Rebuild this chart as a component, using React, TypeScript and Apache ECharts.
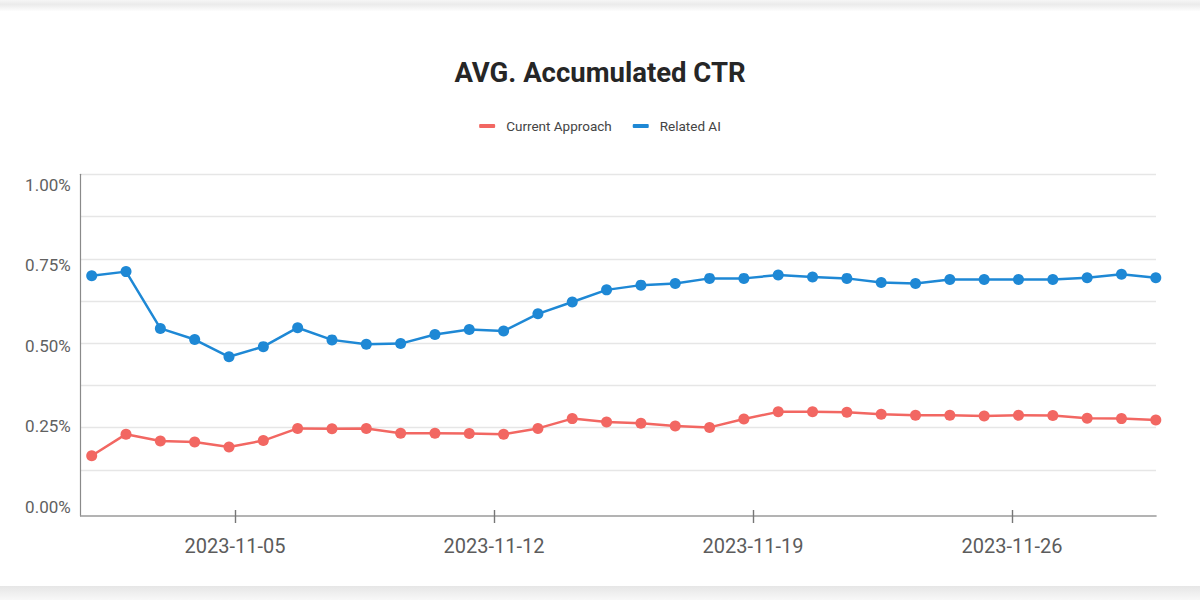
import React, { useEffect, useRef } from 'react';
import * as echarts from 'echarts';

const dates = [
  '2023-11-01', '2023-11-02', '2023-11-03', '2023-11-04', '2023-11-05', '2023-11-06', '2023-11-07', '2023-11-08',
  '2023-11-09', '2023-11-10', '2023-11-11', '2023-11-12', '2023-11-13', '2023-11-14', '2023-11-15', '2023-11-16',
  '2023-11-17', '2023-11-18', '2023-11-19', '2023-11-20', '2023-11-21', '2023-11-22', '2023-11-23', '2023-11-24',
  '2023-11-25', '2023-11-26', '2023-11-27', '2023-11-28', '2023-11-29', '2023-11-30', '2023-12-01', '2023-12-02',
];

const currentApproach = [
  0.167, 0.231, 0.211, 0.208, 0.193, 0.212, 0.248, 0.247, 0.248, 0.234, 0.234, 0.233, 0.231, 0.248, 0.277, 0.267,
  0.263, 0.255, 0.251, 0.276, 0.297, 0.297, 0.296, 0.29, 0.287, 0.287, 0.285, 0.287, 0.286, 0.278, 0.277, 0.273,
];

const relatedAI = [
  0.7, 0.712, 0.544, 0.511, 0.46, 0.49, 0.546, 0.51, 0.497, 0.499, 0.526, 0.541, 0.536, 0.587, 0.622, 0.658,
  0.672, 0.677, 0.692, 0.692, 0.702, 0.696, 0.692, 0.68, 0.677, 0.689, 0.689, 0.689, 0.689, 0.694, 0.704, 0.694,
];

const xTickLabels = ['2023-11-05', '2023-11-12', '2023-11-19', '2023-11-26'];
const yTickValues = [0, 0.25, 0.5, 0.75, 1];
const gridLineValues = [0.125, 0.25, 0.375, 0.5, 0.625, 0.75, 0.875, 1];

const seriesNames = ['Current Approach', 'Related AI'];
const RED = '#F26762';
const BLUE = '#1E88D5';
const FONT = 'Roboto, "Noto Sans", sans-serif';

const DAY = 86400000;

export default function App() {
  const ref = useRef<HTMLDivElement>(null);

  useEffect(() => {
    if (!ref.current) return;
    const chart = echarts.init(ref.current, undefined, { renderer: 'svg' });

    const tickTs = xTickLabels.map((s) => Date.parse(s));
    const xMin = tickTs[0] - 4.17 * DAY;
    const xMax = tickTs[0] + 24.892 * DAY;
    const fmtDate = (v: number) => new Date(v).toISOString().slice(0, 10);

    chart.setOption({
      animation: false,
      backgroundColor: '#ffffff',
      textStyle: { fontFamily: FONT },
      title: {
        text: 'AVG. Accumulated CTR',
        left: 'center',
        top: 53,
        textStyle: { fontFamily: FONT, fontSize: 27.5, fontWeight: 'bold', color: '#262626' },
      },
      legend: {
        data: seriesNames,
        top: 114,
        left: 'center',
        icon: 'roundRect',
        itemWidth: 16,
        itemHeight: 4,
        itemGap: 21,
        textStyle: { fontFamily: FONT, fontSize: 13.5, color: '#444444', padding: [0, 0, 0, 6] },
      },
      graphic: [
        {
          type: 'rect',
          silent: true,
          z: -10,
          shape: { x: 0, y: 0, width: 1200, height: 11 },
          style: {
            fill: new echarts.graphic.LinearGradient(0, 0, 0, 1, [
              { offset: 0, color: '#f6f6f6' },
              { offset: 0.4, color: '#ebebeb' },
              { offset: 1, color: '#fdfdfd' },
            ]),
          },
        },
        {
          type: 'rect',
          silent: true,
          z: -10,
          shape: { x: 0, y: 586, width: 1200, height: 14 },
          style: {
            fill: new echarts.graphic.LinearGradient(0, 0, 0, 1, [
              { offset: 0, color: '#e6e6e6' },
              { offset: 1, color: '#f8f8f8' },
            ]),
          },
        },
      ],
      grid: [
        { left: 91.7, right: 44.2, top: 174.3, bottom: 84 },
        { left: 80.7, right: 44, top: 174.3, bottom: 84 },
      ],
      xAxis: [
        { gridIndex: 0, type: 'category', data: dates, boundaryGap: false, show: false },
        {
          gridIndex: 1,
          type: 'value',
          position: 'bottom',
          min: xMin,
          max: xMax,
          axisLine: { show: true, onZero: false, lineStyle: { color: '#9a9a9a', width: 1.6 } },
          axisTick: { show: true, customValues: tickTs, length: 7, lineStyle: { color: '#777777', width: 1.4 } },
          axisLabel: {
            customValues: tickTs,
            formatter: (v: number) => fmtDate(v),
            fontFamily: FONT,
            fontSize: 20,
            color: '#5c5c5c',
            margin: 20,
          },
          splitLine: { show: false },
        },
        {
          gridIndex: 1,
          type: 'value',
          position: 'bottom',
          min: xMin,
          max: xMax,
          axisLine: { show: false, onZero: false },
          axisTick: { show: true, inside: true, customValues: tickTs, length: 6, lineStyle: { color: '#777777', width: 1.4 } },
          axisLabel: { show: false },
          splitLine: { show: false },
        },
      ],
      yAxis: [
        { gridIndex: 0, type: 'value', min: -0.0112, max: 1, show: false },
        {
          gridIndex: 1,
          type: 'value',
          position: 'left',
          min: -0.0112,
          max: 1,
          axisLine: { show: true, onZero: false, lineStyle: { color: '#8a8a8a', width: 1.2 } },
          axisTick: { show: false, customValues: gridLineValues },
          axisLabel: { show: false },
          splitLine: { show: true, lineStyle: { color: '#e6e6e6', width: 1.3 } },
        },
        {
          gridIndex: 1,
          type: 'value',
          position: 'left',
          min: -0.028,
          max: 1.0332,
          axisLine: { show: false, onZero: false },
          axisTick: { show: false },
          splitLine: { show: false },
          axisLabel: {
            customValues: yTickValues,
            formatter: (v: number) => v.toFixed(2) + '%',
            fontFamily: FONT,
            fontSize: 17,
            color: '#616161',
            margin: 10,
          },
        },
      ],
      series: [
        {
          name: seriesNames[0],
          type: 'line',
          xAxisIndex: 0,
          yAxisIndex: 0,
          data: currentApproach,
          symbol: 'circle',
          symbolSize: 11,
          showAllSymbol: true,
          lineStyle: { width: 2.5, color: RED },
          itemStyle: { color: RED },
        },
        {
          name: seriesNames[1],
          type: 'line',
          xAxisIndex: 0,
          yAxisIndex: 0,
          data: relatedAI,
          symbol: 'circle',
          symbolSize: 11,
          showAllSymbol: true,
          lineStyle: { width: 2.5, color: BLUE },
          itemStyle: { color: BLUE },
        },
      ],
    });

    return () => chart.dispose();
  }, []);

  return <div ref={ref} style={{ position: 'absolute', left: 0, top: 0, width: 1200, height: 600 }} />;
}
